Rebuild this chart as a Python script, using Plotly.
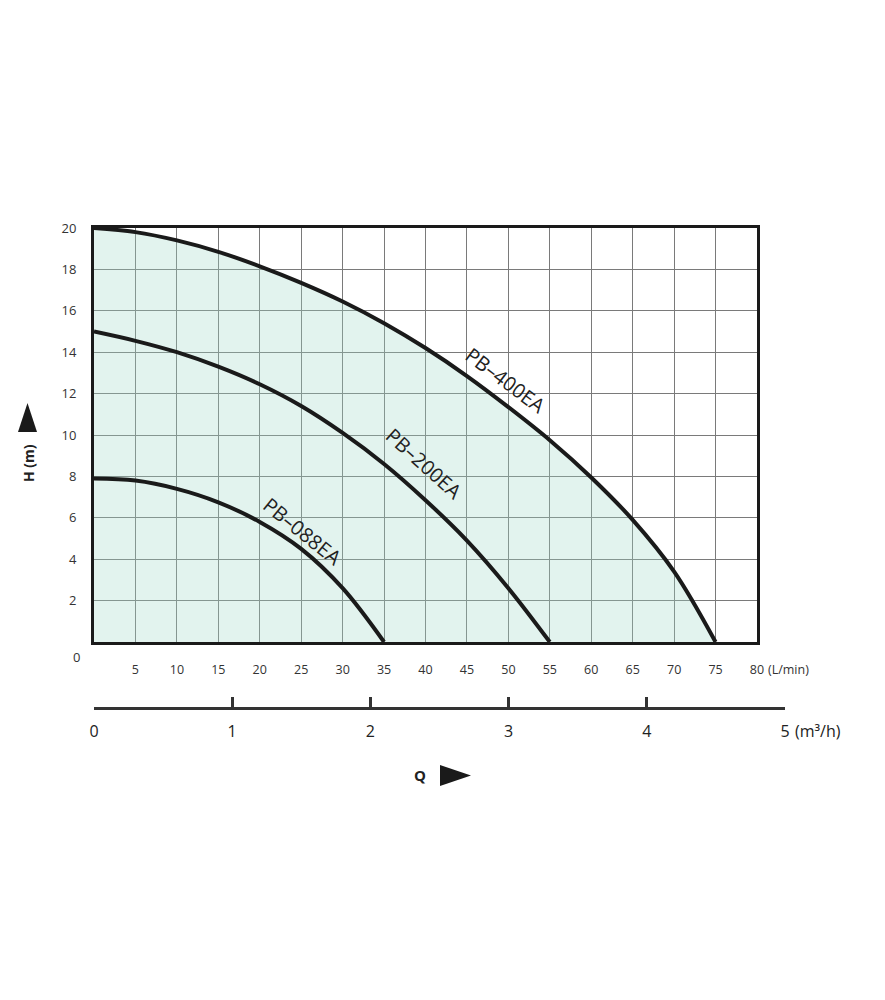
import plotly.graph_objects as go

# ---- data ----
q400 = [0, 5, 10, 15, 20, 25, 30, 35, 40, 45, 50, 55, 60, 65, 70, 75]
h400 = [20, 19.8, 19.4, 18.85, 18.15, 17.35, 16.45, 15.4, 14.2, 12.85, 11.35, 9.75, 7.95, 5.9, 3.4, 0]
q200 = [0, 5, 10, 15, 20, 25, 30, 35, 40, 45, 50, 55]
h200 = [15, 14.55, 14.0, 13.3, 12.45, 11.4, 10.1, 8.6, 6.85, 4.9, 2.6, 0]
q088 = [0, 5, 10, 15, 20, 25, 30, 35]
h088 = [7.9, 7.8, 7.4, 6.75, 5.8, 4.5, 2.6, 0]

lmin_ticks = [5, 10, 15, 20, 25, 30, 35, 40, 45, 50, 55, 60, 65, 70, 75, 80]
h_ticks = [2, 4, 6, 8, 10, 12, 14, 16, 18, 20]
m3h_ticks = [0, 1, 2, 3, 4, 5]

labels = ["PB–400EA", "PB–200EA", "PB–088EA"]
label_q = [49.7, 39.8, 25.2]
label_h = [12.65, 8.6, 5.36]
label_angle = [37, 42, 39]

# ---- layout geometry (pixels) ----
W, H = 885, 1000
ML, MR, MT, MB = 94, 95, 228, 200
PW = W - ML - MR
PH = H - MT - MB


def px(x):
    return (x - ML) / PW


def py(y):
    return (H - MB - y) / PH


FONT = "Open Sans"

fig = go.Figure()
fig.add_trace(go.Scatter(x=q400, y=h400, mode="lines", fill="tozeroy",
                         fillcolor="rgba(160,215,198,0.3)",
                         line=dict(color="#1a1a1a", width=4, shape="spline"),
                         hoverinfo="skip"))
fig.add_trace(go.Scatter(x=q200, y=h200, mode="lines",
                         line=dict(color="#1a1a1a", width=4, shape="spline"),
                         hoverinfo="skip"))
fig.add_trace(go.Scatter(x=q088, y=h088, mode="lines",
                         line=dict(color="#1a1a1a", width=4, shape="spline"),
                         hoverinfo="skip"))
# invisible trace to materialise the m3/h axis
fig.add_trace(go.Scatter(x=[0, 5], y=[0, 0], xaxis="x2", yaxis="y2",
                         mode="lines", line=dict(width=0), hoverinfo="skip"))

annotations = []
for t, q, h, a in zip(labels, label_q, label_h, label_angle):
    annotations.append(dict(x=q, y=h, xref="x", yref="y", text=t, textangle=a,
                            showarrow=False,
                            font=dict(family=FONT, size=20, color="#222")))
# y "0" label
annotations.append(dict(x=px(71), y=py(657), xref="paper", yref="paper",
                        text="0", showarrow=False, yanchor="middle",
                        font=dict(family=FONT, size=13, color="#333")))
# unit labels
annotations.append(dict(x=80, y=py(669), xref="x", yref="paper", text="(L/min)",
                        xanchor="left", yanchor="middle", xshift=9, showarrow=False,
                        font=dict(family=FONT, size=12.5, color="#333")))
annotations.append(dict(x=5, y=py(731), xref="x2", yref="paper", text="(m³/h)",
                        xanchor="left", yanchor="middle", xshift=8, showarrow=False,
                        font=dict(family=FONT, size=16, color="#222")))
# axis titles
annotations.append(dict(x=px(28), y=py(463), xref="paper", yref="paper",
                        text="<b>H (m)</b>", textangle=-90, showarrow=False,
                        xanchor="center", yanchor="middle",
                        font=dict(family=FONT, size=14, color="#222")))
annotations.append(dict(x=px(420), y=py(775), xref="paper", yref="paper",
                        text="<b>Q</b>", showarrow=False,
                        xanchor="center", yanchor="middle",
                        font=dict(family=FONT, size=15, color="#222")))

shapes = [
    dict(type="path", xref="paper", yref="paper",
         path=f"M {px(18)},{py(432)} L {px(37)},{py(432)} L {px(27.5)},{py(403)} Z",
         fillcolor="#1a1a1a", line=dict(width=0)),
    dict(type="path", xref="paper", yref="paper",
         path=f"M {px(440)},{py(765)} L {px(440)},{py(786)} L {px(471)},{py(775.5)} Z",
         fillcolor="#1a1a1a", line=dict(width=0)),
]

fig.update_layout(
    width=W, height=H,
    margin=dict(l=ML, r=MR, t=MT, b=MB),
    paper_bgcolor="white", plot_bgcolor="white",
    showlegend=False,
    font=dict(family=FONT, color="#333"),
    xaxis=dict(domain=[0, px(757)], range=[0, 80], tickvals=lmin_ticks,
               ticktext=[str(v) for v in lmin_ticks], ticks="",
               showgrid=True, gridcolor="#7a7a7a", gridwidth=1,
               showline=True, linecolor="#1a1a1a", linewidth=3, mirror=True,
               zeroline=False, ticklabelstandoff=14,
               tickfont=dict(family=FONT, size=12.5, color="#333"), anchor="y"),
    yaxis=dict(domain=[py(642), 1], range=[0, 20], tickvals=h_ticks,
               ticktext=[str(v) for v in h_ticks], ticks="",
               showgrid=True, gridcolor="#7a7a7a", gridwidth=1,
               showline=True, linecolor="#1a1a1a", linewidth=3, mirror=True,
               zeroline=False, ticklabelstandoff=12,
               tickfont=dict(family=FONT, size=13, color="#333"), anchor="x"),
    xaxis2=dict(domain=[0, px(785)], range=[0, 5], tickvals=m3h_ticks,
                ticktext=[str(v) for v in m3h_ticks], ticks="inside",
                ticklen=10, tickwidth=2.5, tickcolor="#333",
                showline=True, linecolor="#333", linewidth=2.5,
                showgrid=False, zeroline=False, anchor="y2",
                ticklabelstandoff=8,
                tickfont=dict(family=FONT, size=16, color="#222")),
    yaxis2=dict(domain=[py(707), py(690)], range=[0, 1], visible=False,
                anchor="x2"),
    annotations=annotations,
    shapes=shapes,
)

fig.write_html("out.html")
